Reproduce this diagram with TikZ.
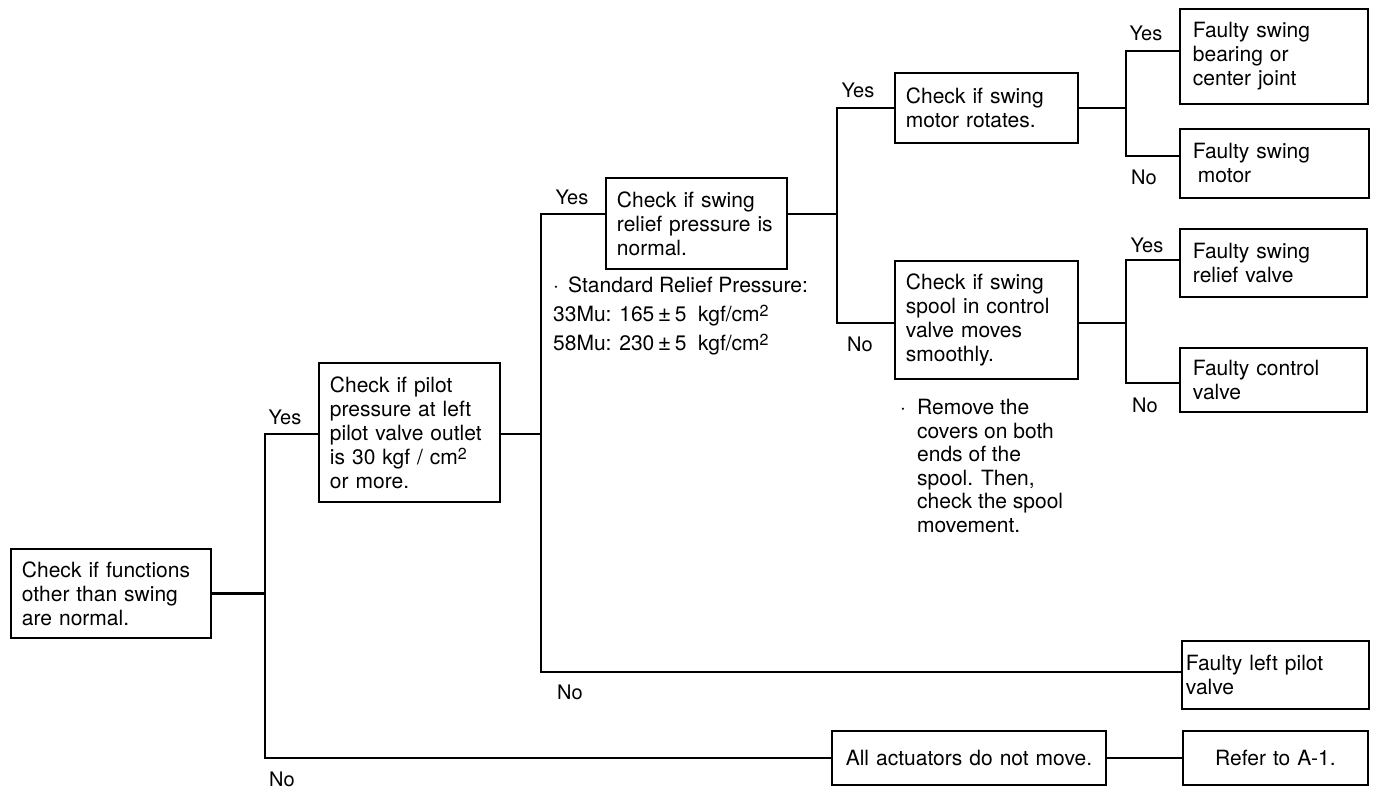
\documentclass[tikz,border=0pt]{standalone}
\usepackage{fontspec}
\setmainfont{TeX Gyre Heros}
\newcommand{\sqtwo}{\raisebox{0.45ex}{\fontsize{16}{16}\selectfont 2}}
\begin{document}
\begin{tikzpicture}[x=1pt,y=-1pt,
  box/.style={draw,line width=1.9pt,anchor=north west,align=left,
    inner xsep=11pt,inner ysep=0pt,font=\fontsize{21}{24}\selectfont},
  lbl/.style={font=\fontsize{20}{24}\selectfont,inner sep=0pt},
  note/.style={align=left,inner sep=0pt,anchor=west},
  link/.style={line width=2.1pt}]
\useasboundingbox (0,0) rectangle (1373,788);

% decision and result boxes
\node[box,text width=178pt,minimum height=89pt] (A) at (10,548)
  {Check if functions\\other than swing\\are normal.};
\node[box,text width=159pt,minimum height=139pt] (B) at (318,362)
  {Check if pilot\\pressure at left\\pilot valve outlet\\is 30 kgf / cm\sqtwo\\or more.};
\node[box,text width=159pt,minimum height=91pt] (C) at (605,177)
  {Check if swing\\relief pressure is\\normal.};
\node[box,text width=161pt,minimum height=70pt] (D) at (894,72)
  {Check if swing\\motor rotates.};
\node[box,text width=161pt,minimum height=118pt] (E) at (894,260)
  {Check if swing\\spool in control\\valve moves\\smoothly.};
\node[box,inner xsep=13pt,text width=162pt,minimum height=95pt] (F1) at (1179,8)
  {Faulty swing\\bearing or\\center joint};
\node[box,inner xsep=13pt,text width=163pt,minimum height=69pt] (F2) at (1179,128)
  {Faulty swing\\\hspace*{5pt}motor};
\node[box,inner xsep=13pt,text width=161pt,minimum height=68pt] (F3) at (1179,228)
  {Faulty swing\\relief valve};
\node[box,inner xsep=13pt,text width=161pt,minimum height=64pt] (F4) at (1179,347)
  {Faulty control\\valve};
\node[box,inner xsep=4pt,text width=179pt,minimum height=68pt] (F5) at (1181,640)
  {Faulty left pilot\\valve};
\node[box,align=center,text width=252pt,minimum height=54pt] (G) at (831,730)
  {All actuators do not move.};
\node[box,align=center,text width=163pt,minimum height=54pt] (H) at (1182,730)
  {Refer to A-1.};

% notes
\node[note,font=\fontsize{21}{29}\selectfont] (std) at (553,316)
  {\makebox[15pt][l]{·}Standard Relief Pressure:\\
   33Mu: 165\,{\fontsize{23}{23}\selectfont ±}\,5~~kgf/cm\sqtwo\\
   58Mu: 230\,{\fontsize{23}{23}\selectfont ±}\,5~~kgf/cm\sqtwo};
\node[note,font=\fontsize{21}{23.6}\selectfont] (rm) at (900,466)
  {\makebox[17pt][l]{·}Remove the\\
   \hspace*{17pt}covers on both\\
   \hspace*{17pt}ends of the\\
   \hspace*{17pt}spool. Then,\\
   \hspace*{17pt}check the spool\\
   \hspace*{17pt}movement.};

% branch points
\coordinate (j1t) at (265,434);
\coordinate (j1b) at (265,758);
\coordinate (j2t) at (541,214);
\coordinate (j2b) at (541,672);
\coordinate (j3t) at (837,108);
\coordinate (j3b) at (837,323);
\coordinate (j4t) at (1126,51);
\coordinate (j4b) at (1126,156);
\coordinate (j5t) at (1126,260);
\coordinate (j5b) at (1126,383);

% connectors
\draw[link] (A.east) -- (A.east -| j1t);
\draw[link] (B.west |- j1t) -- (j1t) -- (j1b) -- (G.west |- j1b);
\draw[link] (B.east |- j1t) -- (j2t |- j1t);
\draw[link] (C.west |- j2t) -- (j2t) -- (j2b) -- (F5.west |- j2b);
\draw[link] (C.east |- j2t) -- (j3t |- j2t);
\draw[link] (D.west |- j3t) -- (j3t) -- (j3b) -- (E.west |- j3b);
\draw[link] (D.east |- j3t) -- (j4t |- j3t);
\draw[link] (F1.west |- j4t) -- (j4t) -- (j4b) -- (F2.west |- j4b);
\draw[link] (E.east |- j3b) -- (j5t |- j3b);
\draw[link] (F3.west |- j5t) -- (j5t) -- (j5b) -- (F4.west |- j5b);
\draw[link] (G.east |- j1b) -- (H.west |- j1b);

% branch labels
\node[lbl] (y1) at (285,417) {Yes};
\node[lbl] (n1) at (282,779) {No};
\node[lbl] (y2) at (572,197) {Yes};
\node[lbl] (n2) at (570,692) {No};
\node[lbl] (y3) at (858,90) {Yes};
\node[lbl] (n3) at (860,344) {No};
\node[lbl] (y4) at (1146,33) {Yes};
\node[lbl] (n4) at (1144,177) {No};
\node[lbl] (y5) at (1147,245) {Yes};
\node[lbl] (n5) at (1145,405) {No};
\end{tikzpicture}
\end{document}
